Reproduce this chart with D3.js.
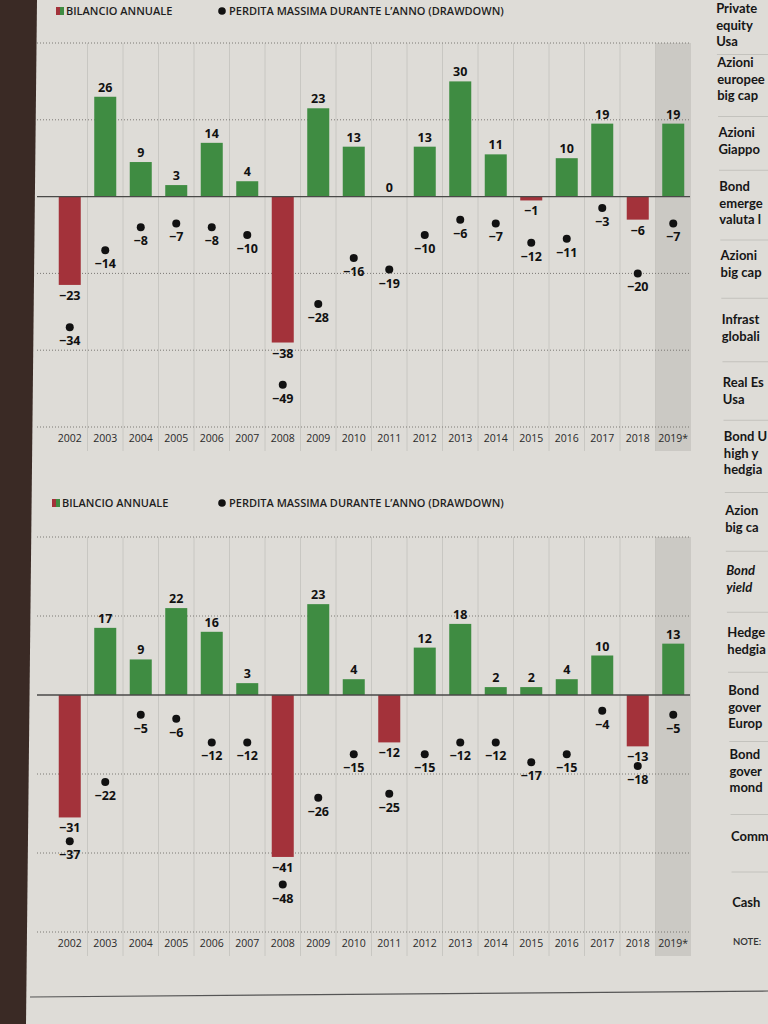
<!DOCTYPE html>
<html>
<head>
<meta charset="utf-8">
<script src="https://cdn.jsdelivr.net/npm/d3@7"></script>
<style>
  body { margin: 0; background: #dedcd7; }
  svg { display: block; }
</style>
</head>
<body>
<div class="sheet"></div>
<script>
// years on the x axis
const years = ["2002", "2003", "2004", "2005", "2006", "2007", "2008", "2009", "2010",
  "2011", "2012", "2013", "2014", "2015", "2016", "2017", "2018", "2019*"];

// top chart
const bilancioTop = [-23, 26, 9, 3, 14, 4, -38, 23, 13, 0, 13, 30, 11, -1, 10, 19, -6, 19];
const drawdownTop = [-34, -14, -8, -7, -8, -10, -49, -28, -16, -19, -10, -6, -7, -12, -11, -3, -20, -7];

// bottom chart
const bilancioBottom = [-31, 17, 9, 22, 16, 3, -41, 23, 4, -12, 12, 18, 2, 2, 4, 10, -13, 13];
const drawdownBottom = [-37, -22, -5, -6, -12, -12, -48, -26, -15, -25, -15, -12, -12, -17, -15, -4, -18, -5];

const gridTicks = [40, 20, 0, -20, -40, -60];
const legendLabels = ["BILANCIO ANNUALE", "PERDITA MASSIMA DURANTE L\u2019ANNO (DRAWDOWN)"];

// column of asset names on the right, as far as the page edge shows them
const sideLabels = [
  ["Private", "equity", "Usa"],
  ["Azioni", "europee", "big cap"],
  ["Azioni", "Giappo"],
  ["Bond", "emerge", "valuta l"],
  ["Azioni", "big cap"],
  ["Infrast", "globali"],
  ["Real Es", "Usa"],
  ["Bond U", "high y", "hedgia"],
  ["Azion", "big ca"],
  ["Bond", "yield"],
  ["Hedge", "hedgia"],
  ["Bond", "gover", "Europ"],
  ["Bond", "gover", "mond"],
  ["Comm"],
  ["Cash"]
];
const sideTops = [9, 63, 133, 187, 256, 320, 383, 437, 511, 571, 633, 691, 755, 837, 903];

const GREEN = "#3f8c42";
const RED = "#a3323a";
const fmt = v => (v < 0 ? "\u2212" + Math.abs(v) : String(v));

const svg = d3.select(".sheet")
  .append("svg")
  .attr("width", 768)
  .attr("height", 1024)
  .style("font-family", "'Open Sans', 'Noto Sans', sans-serif");

svg.append("rect").attr("width", 768).attr("height", 1024).attr("fill", "#dedcd7");

// dark table edge on the left
svg.append("path")
  .attr("d", "M0,0 L37,0 L26,1024 L0,1024 Z")
  .attr("fill", "#3a2a25");

function drawPanel(cfg) {
  const x = d3.scaleBand().domain(years).range([52, 691]).padding(0);
  const y = d3.scaleLinear().domain([-60, 40]).range([cfg.bottom, cfg.top]);
  const barW = x.bandwidth() * 0.62;
  const cx = d => x(d) + x.bandwidth() / 2;
  const g = svg.append("g");

  // legend
  const lg = g.append("g").attr("transform", `translate(0, ${cfg.legendY})`);
  lg.append("rect").attr("x", cfg.legendX).attr("y", -8).attr("width", 4).attr("height", 8).attr("fill", RED);
  lg.append("rect").attr("x", cfg.legendX + 4).attr("y", -8).attr("width", 4).attr("height", 8).attr("fill", GREEN);
  lg.append("text").attr("x", cfg.legendX + 10).attr("y", 0)
    .attr("font-size", 11).attr("font-weight", 600).attr("fill", "#1e1e1e").text(legendLabels[0]);
  lg.append("circle").attr("cx", 222).attr("cy", -4).attr("r", 3.8).attr("fill", "#111");
  lg.append("text").attr("x", 229).attr("y", 0)
    .attr("font-size", 11).attr("font-weight", 600).attr("fill", "#1e1e1e").text(legendLabels[1]);

  // shaded last column (estimate)
  g.append("rect")
    .attr("x", x("2019*")).attr("y", cfg.top)
    .attr("width", x.bandwidth()).attr("height", cfg.bottom - cfg.top + 24)
    .attr("fill", "#cbc9c4");

  // column separators
  g.selectAll(".sep")
    .data(years.slice(1))
    .enter()
    .append("line")
    .attr("x1", d => x(d)).attr("x2", d => x(d))
    .attr("y1", cfg.top).attr("y2", cfg.bottom + 24)
    .attr("stroke", "#c3c1bc").attr("stroke-width", 0.8);

  // dotted grid
  g.selectAll(".grid")
    .data(gridTicks.filter(t => t !== 0))
    .enter()
    .append("line")
    .attr("x1", 37).attr("x2", 690)
    .attr("y1", d => y(d)).attr("y2", d => y(d))
    .attr("stroke", "#6f6d69").attr("stroke-width", 0.9).attr("stroke-dasharray", "1,2");

  // year labels
  const xAxis = d3.axisBottom(x).tickSize(0).tickPadding(8);
  g.append("g")
    .attr("transform", `translate(0, ${cfg.bottom})`)
    .call(xAxis)
    .call(a => a.select(".domain").remove())
    .selectAll("text")
    .attr("font-size", 10.5)
    .attr("font-family", "'Open Sans', sans-serif")
    .attr("fill", "#2a2a2a");

  // bars
  g.selectAll(".bar")
    .data(cfg.bilancio)
    .enter()
    .append("rect")
    .attr("x", (d, i) => cx(years[i]) - barW / 2)
    .attr("y", d => y(Math.max(0, d)))
    .attr("width", barW)
    .attr("height", d => Math.abs(y(d) - y(0)))
    .attr("fill", d => (d < 0 ? RED : GREEN));

  // zero line
  g.append("line")
    .attr("x1", 37).attr("x2", 690)
    .attr("y1", y(0)).attr("y2", y(0))
    .attr("stroke", "#4a4a48").attr("stroke-width", 1.3);

  // bar values
  g.selectAll(".val")
    .data(cfg.bilancio)
    .enter()
    .append("text")
    .attr("x", (d, i) => cx(years[i]))
    .attr("y", d => (d < 0 ? y(d) + 15 : y(d) - 5))
    .attr("text-anchor", "middle")
    .attr("font-size", 12.5).attr("font-weight", 700).attr("fill", "#111")
    .text(fmt);

  // drawdown dots
  g.selectAll(".dot")
    .data(cfg.drawdown)
    .enter()
    .append("circle")
    .attr("cx", (d, i) => cx(years[i]))
    .attr("cy", d => y(d))
    .attr("r", 4)
    .attr("fill", "#111");

  g.selectAll(".dd")
    .data(cfg.drawdown)
    .enter()
    .append("text")
    .attr("x", (d, i) => cx(years[i]))
    .attr("y", d => y(d) + 18)
    .attr("text-anchor", "middle")
    .attr("font-size", 12.5).attr("font-weight", 700).attr("fill", "#111")
    .text(fmt);
}

drawPanel({ legendY: 15, legendX: 56, top: 43, bottom: 427, bilancio: bilancioTop, drawdown: drawdownTop });
drawPanel({ legendY: 507, legendX: 52, top: 537, bottom: 932, bilancio: bilancioBottom, drawdown: drawdownBottom });

// right column, slightly shifted by the page curve
const sideX = d3.scaleLinear().domain([0, 950]).range([716, 733]);
const side = svg.append("g").style("font-family", "Lato, 'Open Sans', sans-serif");
sideLabels.forEach((lines, i) => {
  const top = sideTops[i];
  const t = side.append("text")
    .attr("x", sideX(top)).attr("y", top + 4)
    .attr("font-size", 13).attr("font-weight", 700).attr("fill", "#161616")
    .attr("font-style", i === 9 ? "italic" : "normal");
  lines.forEach((l, j) => {
    t.append("tspan").attr("x", sideX(top)).attr("dy", j === 0 ? 0 : 16.5).text(l);
  });
  if (i < sideLabels.length - 1) {
    const sepY = (top + 16.5 * (lines.length - 1) + sideTops[i + 1]) / 2 + 2;
    side.append("line")
      .attr("x1", sideX(sepY)).attr("x2", 768)
      .attr("y1", sepY).attr("y2", sepY)
      .attr("stroke", "#bdbbb6").attr("stroke-width", 0.8);
  }
});
side.append("text")
  .attr("x", sideX(945)).attr("y", 945)
  .attr("font-size", 9.5).attr("font-weight", 600).attr("fill", "#333")
  .text("NOTE:");

// rule under the charts
svg.append("line")
  .attr("x1", 30).attr("x2", 768)
  .attr("y1", 997).attr("y2", 991)
  .attr("stroke", "#555").attr("stroke-width", 1.2);
</script>
</body>
</html>
